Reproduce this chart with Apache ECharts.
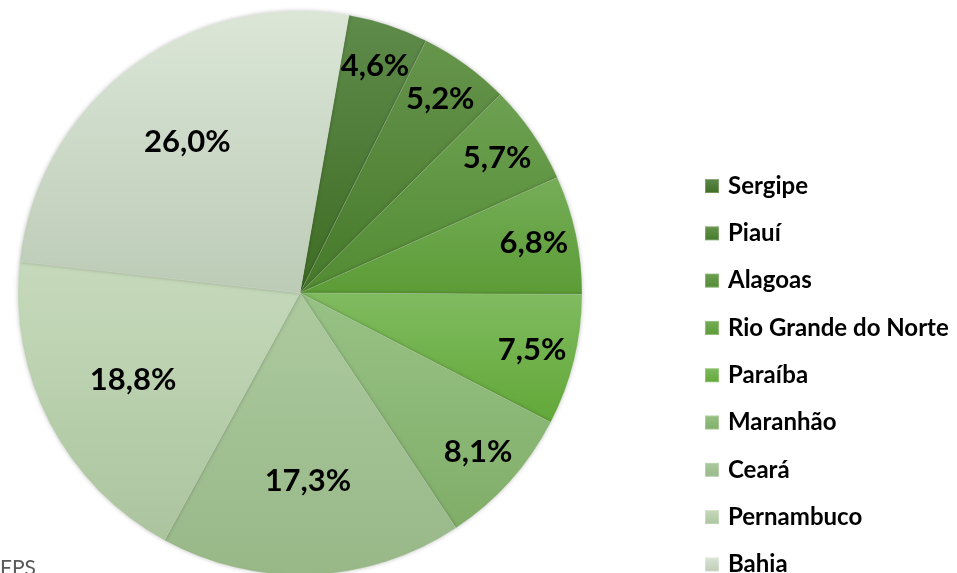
<!DOCTYPE html>
<html>
<head>
<meta charset="utf-8">
<script src="https://cdn.jsdelivr.net/npm/echarts@6/dist/echarts.min.js"></script>
<style>
  html, body { margin: 0; padding: 0; background: #fff; }
  #main { width: 957px; height: 573px; }
</style>
</head>
<body>
<div id="main"></div>
<script>
// estados do Nordeste, em ordem horária a partir do topo
var estados = ["Sergipe", "Piauí", "Alagoas", "Rio Grande do Norte", "Paraíba",
  "Maranhão", "Ceará", "Pernambuco", "Bahia"];
var percentuais = [4.6, 5.2, 5.7, 6.8, 7.5, 8.1, 17.3, 18.8, 26.0];
// cor de cima / cor de baixo de cada fatia
var coresTopo = ["#5f8b4b", "#66954c", "#6da152", "#75ad58", "#80bb60",
  "#98c286", "#acca9e", "#c6dabb", "#dbe6d7"];
var coresBase = ["#3e6d24", "#46792a", "#528a32", "#5c9c36", "#62a838",
  "#80ae68", "#98b888", "#abc49e", "#bccbb6"];

var fonte = "Lato, 'Open Sans', sans-serif";

function gradiente(i) {
  return {
    type: "linear", x: 0, y: 0, x2: 0, y2: 1,
    colorStops: [{ offset: 0, color: coresTopo[i] }, { offset: 1, color: coresBase[i] }]
  };
}

var dados = estados.map(function (nome, i) {
  return { name: nome, value: percentuais[i], itemStyle: { color: gradiente(i) } };
});

// series invisíveis só para posicionar os rótulos
function rotulos(grande) {
  return estados.map(function (nome, i) {
    var mostra = grande ? percentuais[i] >= 15 : percentuais[i] < 15;
    return {
      name: nome, value: percentuais[i],
      label: { show: mostra }
    };
  });
}

function serieRotulo(raio, grande) {
  return {
    type: "pie",
    center: [300, 293],
    radius: raio,
    startAngle: 80,
    silent: true,
    animation: false,
    legendHoverLink: false,
    itemStyle: { color: "transparent", borderWidth: 0 },
    label: {
      position: "inside",
      formatter: function (p) { return p.value.toFixed(1).replace(".", ",") + "%"; },
      color: "#000",
      fontFamily: fonte,
      fontWeight: "bold",
      fontSize: 31
    },
    labelLine: { show: false },
    emphasis: { disabled: true },
    data: rotulos(grande)
  };
}

var myChart = echarts.init(document.getElementById("main"));

var option = {
  animation: false,
  legend: {
    orient: "vertical",
    left: 704,
    top: 174,
    height: 420,
    padding: 0,
    itemWidth: 14,
    itemHeight: 14,
    itemGap: 23.3,
    icon: "rect",
    data: estados,
    selectedMode: false,
    textStyle: {
      fontFamily: fonte,
      fontWeight: "bold",
      fontSize: 24,
      lineHeight: 23,
      color: "#000",
      padding: [0, 0, 0, 4]
    }
  },
  graphic: [{
    type: "text",
    left: 0,
    top: 558,
    style: { text: "FPS", fill: "#595959", font: "21px " + fonte }
  }],
  series: [
    {
      type: "pie",
      center: [300, 293],
      radius: [0, 282],
      startAngle: 80,
      animation: false,
      itemStyle: {
        borderColor: "rgba(255,255,255,0.25)",
        borderWidth: 0.5,
        shadowBlur: 4,
        shadowColor: "rgba(0,0,0,0.25)"
      },
      label: { show: false },
      labelLine: { show: false },
      data: dados
    },
    serieRotulo([130, 240], true),
    serieRotulo([190, 282], false)
  ]
};

myChart.setOption(option);
</script>
</body>
</html>
